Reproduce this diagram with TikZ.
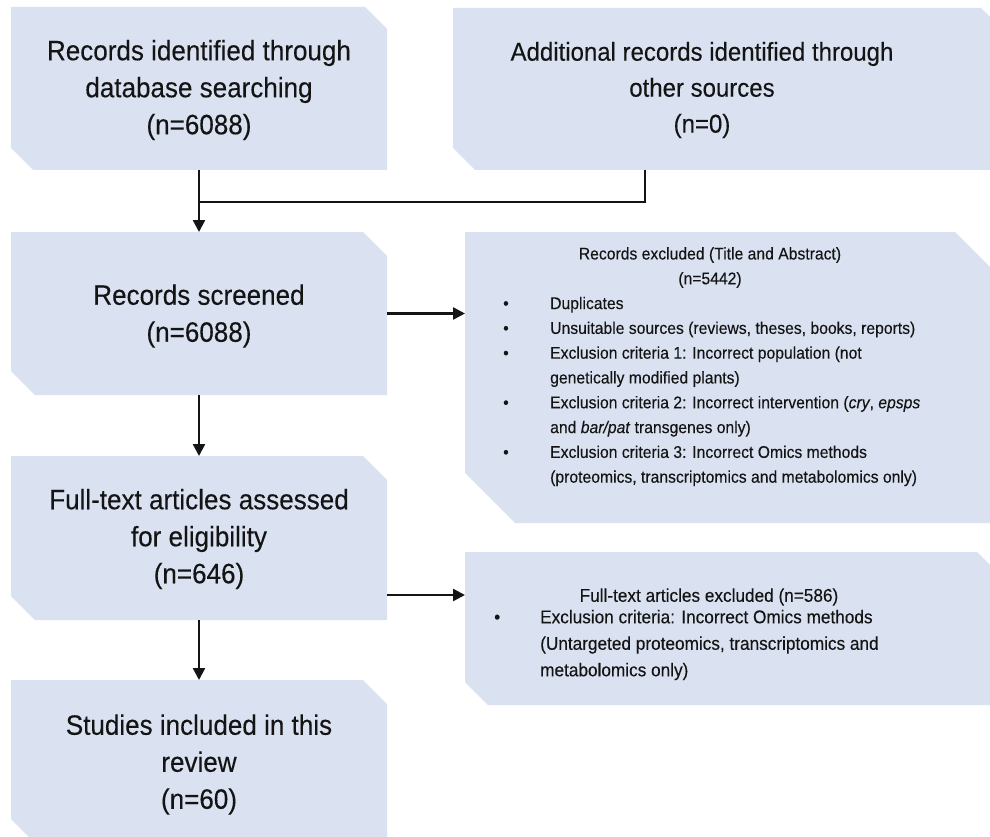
\documentclass[tikz,border=0pt]{standalone}
\usepackage{fontspec}
\setmainfont{Liberation Sans}[FakeStretch=0.93,FakeBold=0.25]
\usetikzlibrary{arrows.meta,calc}
\definecolor{boxfill}{RGB}{218,226,242}
\definecolor{ink}{RGB}{20,20,20}
\newcommand\chbox[2]{\fill[boxfill] (#1.north west) -- ([xshift=-#2]#1.north east) -- ([yshift=-#2]#1.north east) -- (#1.south east) -- ([xshift=#2]#1.south west) -- ([yshift=#2]#1.south west) -- cycle;}
\begin{document}
\begin{tikzpicture}[x=1pt,y=-1pt,
  frame/.style={rectangle,draw=none,inner sep=0pt,outer sep=0pt},
  big/.style={align=center,inner sep=0pt,text=ink,font=\fontsize{28}{37}\selectfont},
  mid/.style={align=center,inner sep=0pt,text=ink,font=\fontsize{25.8}{36}\selectfont},
  small/.style={align=left,inner sep=0pt,text=ink,font=\fontsize{16.9}{24.8}\selectfont},
  smallc/.style={align=center,inner sep=0pt,text=ink,font=\fontsize{16.9}{24.8}\selectfont},
  med/.style={align=left,inner sep=0pt,text=ink,font=\fontsize{18.5}{26.5}\selectfont},
  arr/.style={line width=2.5pt,draw=ink,-{Triangle[length=12pt,width=12pt]}},
  ln/.style={line width=2.5pt,draw=ink}]
\useasboundingbox (0,0) rectangle (990,837);
\fill[white] (0,0) rectangle (990,837);
\clip (0,0) rectangle (990,837);
% frames
\node[frame,minimum width=376pt,minimum height=163pt] (b1) at (199,88.5) {};
\node[frame,minimum width=550pt,minimum height=162pt] (b2) at (728,89) {};
\node[frame,minimum width=376pt,minimum height=163pt] (b3) at (199,313.5) {};
\node[frame,minimum width=540pt,minimum height=291pt] (b4) at (735,377.5) {};
\node[frame,minimum width=376pt,minimum height=164pt] (b5) at (199,538) {};
\node[frame,minimum width=535pt,minimum height=153pt] (b6) at (732.5,628.5) {};
\node[frame,minimum width=376pt,minimum height=163pt] (b7) at (199,761.5) {};
\chbox{b1}{22pt}
\chbox{b2}{22pt}
\chbox{b3}{24pt}
\chbox{b4}{50pt}
\chbox{b5}{24pt}
\chbox{b6}{23pt}
\chbox{b7}{24pt}
% texts
\node[big] (t1) at (199,90) {Records identified through\\database searching\\(n=6088)};
\node[mid] (t2) at (702,90) {Additional records identified through\\other sources\\(n=0)};
\node[big] (t3) at (199,316) {Records screened\\(n=6088)};
\node[smallc] (t4h) at (710,267.5) {Records excluded (Title and Abstract)\\(n=5442)};
\node[small,anchor=west] (t4) at (503,391.5) {%
\makebox[47pt][l]{\textbullet}Duplicates\\
\makebox[47pt][l]{\textbullet}Unsuitable sources (reviews, theses, books, reports)\\
\makebox[47pt][l]{\textbullet}Exclusion criteria 1: Incorrect population (not\\
\makebox[47pt][l]{}genetically modified plants)\\
\makebox[47pt][l]{\textbullet}Exclusion criteria 2: Incorrect intervention (\textit{cry}, \textit{epsps}\\
\makebox[47pt][l]{}and \textit{bar/pat} transgenes only)\\
\makebox[47pt][l]{\textbullet}Exclusion criteria 3: Incorrect Omics methods\\
\makebox[47pt][l]{}(proteomics, transcriptomics and metabolomics only)};
\node[big] (t5) at (199,539) {Full-text articles assessed\\for eligibility\\(n=646)};
\node[med,align=center] (t6h) at (709,597) {Full-text articles excluded (n=586)};
\node[med,anchor=west] (t6) at (494,645) {%
\makebox[46pt][l]{\textbullet}Exclusion criteria: Incorrect Omics methods\\
\makebox[46pt][l]{}(Untargeted proteomics, transcriptomics and\\
\makebox[46pt][l]{}metabolomics only)};
\node[big] (t7) at (199,764.5) {Studies included in this\\review\\(n=60)};
% connectors
\coordinate (k) at (645,202);
\draw[ln] (b2.south -| k) -- (k) -- (b1.south |- k);
\draw[arr] (b1.south) -- (b3.north);
\draw[arr] (b3.east) -- (b3.east -| b4.west);
\draw[arr] (b3.south) -- (b5.north);
\draw[arr] ([yshift=-57pt]b5.east) coordinate (p) -- (p -| b6.west);
\draw[arr] (b5.south) -- (b7.north);
\end{tikzpicture}
\end{document}
